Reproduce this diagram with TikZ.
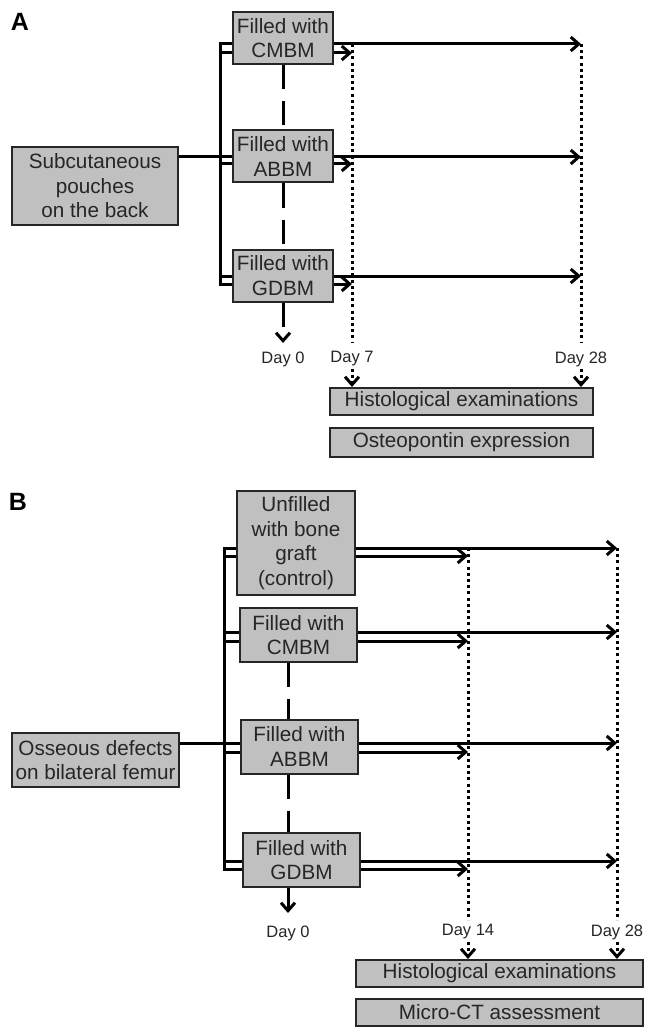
\documentclass[tikz,border=0pt]{standalone}
\usepackage{fontspec}
\setmainfont{Liberation Sans}
\usetikzlibrary{arrows.meta}
\definecolor{boxgray}{RGB}{192,192,192}

\begin{document}
\begin{tikzpicture}[x=1pt, y=-1pt, >={Straight Barb[length=8pt,width=14pt]},
  box/.style={draw=black!85, line width=2pt, fill=boxgray, align=center, inner sep=0pt,
    text=black!85, font=\fontsize{20.7}{24.5}\selectfont},
  fillA/.style={box, minimum width=100pt, minimum height=52pt},
  fillB/.style={box, minimum width=117pt, minimum height=54pt},
  conn/.style={line width=3pt},
  dots/.style={line width=3pt, dash pattern=on 3pt off 3.2pt},
  dashline/.style={line width=3pt, dash pattern=on 24pt off 12pt},
  daylabel/.style={inner sep=2pt, text=black!85, font=\fontsize{16.5}{18}\selectfont},
  panel/.style={font=\fontsize{25}{28}\selectfont\bfseries}]
  \useasboundingbox (0,0) rectangle (647,1027);

  % panel A
  \node[panel] (labA) at (20,22) {A};
  \node[box, minimum width=166pt, minimum height=78pt] (subc) at (95,186) {Subcutaneous\\pouches\\on the back};
  \node[fillA] (cmbmA) at (283,38) {Filled with\\CMBM};
  \node[fillA] (abbmA) at (283,156.5) {Filled with\\ABBM};
  \node[fillA] (gdbmA) at (283,275.5) {Filled with\\GDBM};
  \coordinate (day0A) at (283,343);
  \coordinate (day7) at (352,343);
  \coordinate (day28A) at (581,343);
  \foreach \b/\u/\l in {cmbmA/44/53, abbmA/157/164, gdbmA/276/284} {
    \coordinate (u\b) at (220,\u);
    \coordinate (l\b) at (220,\l);
  }
  \draw[conn] (ucmbmA -| cmbmA.west) -- (ucmbmA) -- (lgdbmA) -- (lgdbmA -| gdbmA.west);
  \draw[conn] (subc.east |- uabbmA) -- (uabbmA);
  \foreach \b in {cmbmA, abbmA, gdbmA} {
    \draw[conn] (u\b) -- (u\b -| \b.west);
    \draw[conn] (l\b) -- (l\b -| \b.west);
    \draw[conn, ->] (u\b -| \b.east) -- (u\b -| day28A);
    \draw[conn, ->] (l\b -| \b.east) -- (l\b -| day7);
  }
  \draw[dots] (ucmbmA -| day7) -- (day7);
  \draw[dots] (ucmbmA -| day28A) -- (day28A);
  \draw[dashline] (cmbmA.south) -- (abbmA.north);
  \draw[dashline] (abbmA.south) -- (gdbmA.north);
  \draw[dashline, ->] (gdbmA.south) -- (day0A);
  \node[daylabel] (t0A) at (283,359) {Day 0};
  \node[daylabel] (t7) at (352,359) {Day 7};
  \node[daylabel] (t28A) at (581,359) {Day 28};
  \node[box, minimum width=263pt, minimum height=27pt] (histA) at (461.5,401.5) {Histological examinations};
  \node[box, minimum width=263pt, minimum height=29pt] (osteo) at (461.5,442.5) {Osteopontin expression};
  \draw[dots, ->] (t7.south) -- (t7.south |- histA.north);
  \draw[dots, ->] (t28A.south) -- (t28A.south |- histA.north);

  % panel B
  \node[panel] (labB) at (18,502) {B};
  \node[box, minimum width=167pt, minimum height=54pt] (osse) at (95.5,760) {Osseous defects\\on bilateral femur};
  \node[box, minimum width=118pt, minimum height=104pt] (unfB) at (296,543) {Unfilled\\with bone\\graft\\(control)};
  \node[fillB] (cmbmB) at (298.5,635) {Filled with\\CMBM};
  \node[fillB] (abbmB) at (299.5,746.5) {Filled with\\ABBM};
  \node[fillB] (gdbmB) at (301.5,860) {Filled with\\GDBM};
  \coordinate (day0B) at (288,913);
  \coordinate (day14) at (468,920);
  \coordinate (day28B) at (617,920);
  \foreach \b/\u/\l in {unfB/548/556, cmbmB/632/641, abbmB/743/752, gdbmB/861/869} {
    \coordinate (u\b) at (224,\u);
    \coordinate (l\b) at (224,\l);
  }
  \draw[conn] (uunfB -| unfB.west) -- (uunfB) -- (lgdbmB) -- (lgdbmB -| gdbmB.west);
  \draw[conn] (osse.east |- uabbmB) -- (uabbmB);
  \foreach \b in {unfB, cmbmB, abbmB, gdbmB} {
    \draw[conn] (u\b) -- (u\b -| \b.west);
    \draw[conn] (l\b) -- (l\b -| \b.west);
    \draw[conn, ->] (u\b -| \b.east) -- (u\b -| day28B);
    \draw[conn, ->] (l\b -| \b.east) -- (l\b -| day14);
  }
  \draw[dots] (uunfB -| day14) -- (day14);
  \draw[dots] (uunfB -| day28B) -- (day28B);
  \draw[dashline] (cmbmB.south -| day0B) -- (abbmB.north -| day0B);
  \draw[dashline] (abbmB.south -| day0B) -- (gdbmB.north -| day0B);
  \draw[dashline, ->] (gdbmB.south -| day0B) -- (day0B);
  \node[daylabel] (t0B) at (288,933) {Day 0};
  \node[daylabel] (t14) at (468,932) {Day 14};
  \node[daylabel] (t28B) at (617,932) {Day 28};
  \node[box, minimum width=287pt, minimum height=27pt] (histB) at (499.5,973.5) {Histological examinations};
  \node[box, minimum width=287pt, minimum height=27pt] (micro) at (499.5,1012) {Micro-CT assessment};
  \draw[dots, ->] (t14.south) -- (t14.south |- histB.north);
  \draw[dots, ->] (t28B.south) -- (t28B.south |- histB.north);
\end{tikzpicture}
\end{document}
